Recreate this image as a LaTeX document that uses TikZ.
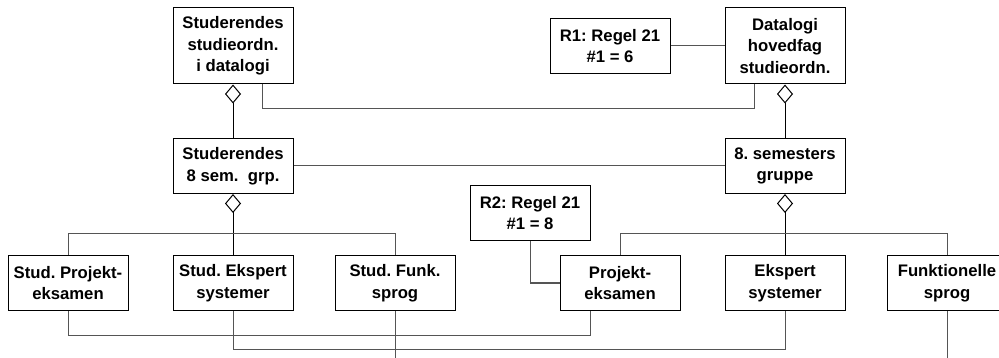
\documentclass[tikz,border=0pt]{standalone}
\usepackage{fontspec}
\setmainfont{Liberation Sans}
\frenchspacing
\usetikzlibrary{arrows.meta}
\definecolor{linkgray}{RGB}{85,85,85}
\tikzset{
box/.style = {draw, line width = 1pt, minimum width = 120pt, minimum height = 55pt, inner sep = 0pt, align = center, font = \fontsize{16.7}{21.7}\selectfont\bfseries},
link/.style = {line width = 1pt, draw = linkgray},
agg/.style = {line width = 1pt, {Diamond[open, length = 19pt, width = 16pt]}-}
}
\begin{document}
\begin{tikzpicture}[x = 1pt, y = 1pt, yscale = -1]
\useasboundingbox (0,0) rectangle (999,358);
\node[box, minimum height = 76pt] (sdat) at (233,46) {Studerendes\\studieordn.\\i datalogi};
\node[box, minimum height = 76pt] (dat) at (785,46) {Datalogi\\hovedfag\\studieordn.};
\node[box] (r1) at (610,46) {R1: Regel 21\\\#1 = 6};
\node[box] (s8) at (233,166) {Studerendes\\8 sem.\ \ grp.};
\node[box] (g8) at (785,166) {8. semesters\\gruppe};
\node[box] (r2) at (530,213) {R2: Regel 21\\\#1 = 8};
\foreach \name / \x / \txt in {sp/68/{Stud. Projekt-\\eksamen}, se/233/{Stud. Ekspert\\systemer}, sf/395/{Stud. Funk.\\sprog}, pe/620/{Projekt-\\eksamen}, es/785/{Ekspert\\systemer}, fs/947/{Funktionelle\\sprog}}
{
\node[box] (\name) at (\x,283) {\txt};
}
\draw[agg] (sdat.south) -- (s8.north);
\draw[agg] (dat.south) -- (g8.north);
\draw[link] ([xshift = 29pt]sdat.south) -- ++(0,24) -| ([xshift = -31pt]dat.south);
\draw[link] (r1) -- (dat);
\draw[link] (s8) -- (g8);
\draw[agg] (s8.south) -- (se.north);
\draw[link] (sp.north) -- ++(0,-21) -| (sf.north);
\draw[agg] (g8.south) -- (es.north);
\draw[link] (pe.north) -- ++(0,-21) -| (fs.north);
\draw[link] (r2) |- (pe);
\draw[link] (sp.south) -- ++(0,24) -| ([xshift = -30pt]pe.south);
\draw[link] (se.south) -- ++(0,38) -| (es.south);
\draw[link] (sf.south) -- ++(0,50);
\draw[link] (fs.south) -- ++(0,50);
\end{tikzpicture}
\end{document}
